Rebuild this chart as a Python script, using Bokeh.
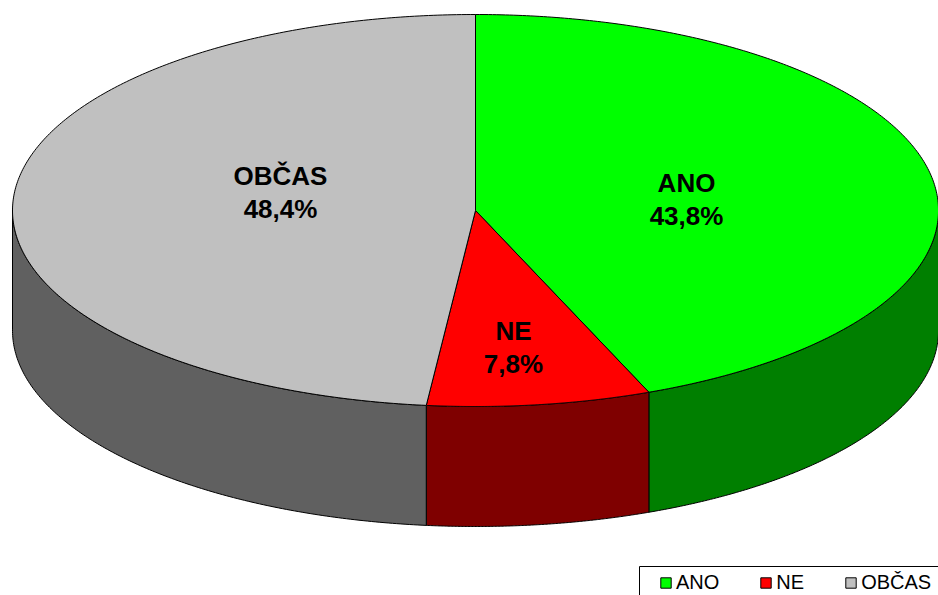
import numpy as np
from bokeh.embed import file_html
from bokeh.models import ColumnDataSource, Legend, LegendItem, Range1d
from bokeh.plotting import figure
from bokeh.resources import INLINE

categories = ["ANO", "NE", "OBČAS"]
shares = [43.8, 7.8, 48.4]
top_colors = ["#00FF00", "#FF0000", "#C0C0C0"]
side_colors = ["#007F00", "#7F0000", "#606060"]
label_x = [686, 513, 280]
label_y = [182, 330, 175]

CX, CY, RX, RY, DEPTH = 475.0, 210.0, 463.0, 196.0, 120.0
SKEW = 0.006
LINE_GAP = 33

p = figure(width=938, height=595, output_backend="svg", toolbar_location=None,
           x_range=Range1d(0, 938), y_range=Range1d(595, 0),
           min_border=0, outline_line_color=None,
           background_fill_color="white", border_fill_color="white")
p.axis.visible = False
p.grid.visible = False


def ell(angles):
    warped = angles + SKEW * (1 - np.cos(angles)) / 2
    return CX + RX * np.sin(warped), CY - RY * np.cos(warped)


edges = np.deg2rad(np.concatenate([[0], np.cumsum(shares)]) * 3.6)
FRONT_A, FRONT_B = np.pi / 2, 3 * np.pi / 2

# legend frame, running off the right and bottom edges as in the reference
p.quad(left=[639], right=[960], top=[566], bottom=[620],
       fill_color="white", line_color="black", line_width=1)

# side walls
for i in range(len(shares)):
    a = max(edges[i], FRONT_A)
    b = min(edges[i + 1], FRONT_B)
    if b <= a:
        continue
    t = np.linspace(a, b, 160)
    x, y = ell(t)
    xs = np.concatenate([x, x[::-1]])
    ys = np.concatenate([y, (y + DEPTH)[::-1]])
    p.patch(xs, ys, fill_color=side_colors[i], line_color="black", line_width=1)

# top slices
renderers = []
for i, name in enumerate(categories):
    t = np.linspace(edges[i], edges[i + 1], 300)
    x, y = ell(t)
    xs = np.concatenate([[CX], x])
    ys = np.concatenate([[CY], y])
    r = p.patch(xs, ys, fill_color=top_colors[i], line_color="black", line_width=1)
    renderers.append(r)

font = "Liberation Sans"
pct = [f"{v:.1f}%".replace(".", ",") for v in shares]
src = ColumnDataSource(dict(x=label_x, y=label_y, y2=[v + LINE_GAP for v in label_y],
                            name=categories, pct=pct))
for yc, tc in (("y", "name"), ("y2", "pct")):
    p.text(x="x", y=yc, text=tc, source=src, text_font={"value": font},
           text_font_size="26px", text_font_style="bold", text_color="black",
           text_align="center", text_baseline="middle")

legend = Legend(
    items=[LegendItem(label=n, renderers=[r]) for n, r in zip(categories, renderers)],
    orientation="horizontal", location=(659, 1),
    border_line_color=None, background_fill_alpha=0,
    label_text_font=font, label_text_font_size="20px", label_text_color="black",
    glyph_width=13, glyph_height=13, label_standoff=4, spacing=40,
    padding=0, margin=0, label_height=14,
)
p.add_layout(legend, "center")

open("out.html", "w").write(file_html(p, INLINE))
